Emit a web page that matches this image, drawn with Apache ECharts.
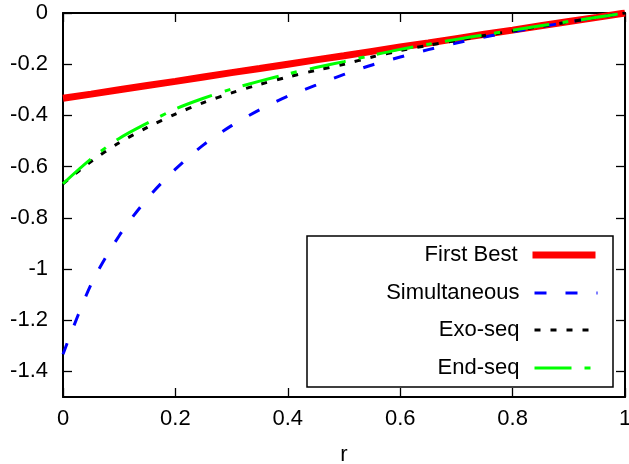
<!DOCTYPE html>
<html>
<head>
<meta charset="utf-8">
<script src="https://cdn.jsdelivr.net/npm/echarts@6/dist/echarts.min.js"></script>
<style>html,body{margin:0;padding:0;background:#fff}#c{width:629px;height:464px}</style>
</head>
<body>
<div id="c"></div>
<script>
const rValues = [0,0.05,0.1,0.15,0.2,0.25,0.3,0.35,0.4,0.45,0.5,0.55,0.6,0.65,0.7,0.75,0.8,0.85,0.9,0.95,1];
const firstBest = [-0.333,-0.317,-0.3,-0.283,-0.267,-0.25,-0.233,-0.217,-0.2,-0.183,-0.167,-0.15,-0.133,-0.117,-0.1,-0.083,-0.067,-0.05,-0.033,-0.017,0];
const simultaneous = [-1.333,-1.06,-0.87,-0.725,-0.61,-0.515,-0.44,-0.378,-0.325,-0.282,-0.24,-0.203,-0.172,-0.143,-0.117,-0.094,-0.073,-0.054,-0.035,-0.017,0];
const exoSeq = [-0.667,-0.58,-0.507,-0.447,-0.395,-0.35,-0.312,-0.279,-0.25,-0.224,-0.2,-0.172,-0.147,-0.126,-0.107,-0.088,-0.07,-0.052,-0.035,-0.017,0];
const endSeq = [-0.667,-0.57,-0.49,-0.43,-0.375,-0.333,-0.297,-0.266,-0.238,-0.213,-0.19,-0.165,-0.142,-0.122,-0.103,-0.085,-0.067,-0.05,-0.033,-0.017,0];
const seriesNames = ['First Best','Simultaneous','Exo-seq','End-seq'];
const xTickValues = [0,0.2,0.4,0.6,0.8,1];
const yTickValues = [0,-0.2,-0.4,-0.6,-0.8,-1,-1.2,-1.4];
const xRange = [0,1];
const yRange = [-1.5,0];

const pairs = ys => rValues.map((r,i)=>[r, ys[i]]);
const FONT = 'Liberation Sans';
const styles = [
  {color:'#ff0000', width:7, type:'solid'},
  {color:'#0000ff', width:3, type:[12,19]},
  {color:'#000000', width:3, type:[6,10]},
  {color:'#00ff00', width:3, type:[37,13,6,13]}
];
const dataSets = [firstBest, simultaneous, exoSeq, endSeq];
const rowTops = [244, 282, 319, 357];

const chart = echarts.init(document.getElementById('c'), null, {renderer:'canvas'});
function axis(extra, ticks, range, showLabels) {
  return Object.assign({
    type:'value', min:range[0], max:range[1],
    axisLine:{show:true, onZero:false, lineStyle:{color:'#000', width:2}},
    axisTick:{show:true, inside:true, length:9, customValues:ticks, lineStyle:{color:'#000', width:1.3}},
    axisLabel:{show:showLabels, customValues:ticks, fontFamily:FONT, fontSize:22, color:'#000',
      alignMinLabel:'center', alignMaxLabel:'center'},
    splitLine:{show:false}
  }, extra);
}
const xa = axis({position:'bottom', name:'r', nameLocation:'middle', nameGap:47,
  nameTextStyle:{fontFamily:FONT, fontSize:22, color:'#000'}}, xTickValues, xRange, true);
xa.axisLabel.margin = 11;
const ya = axis({position:'left'}, yTickValues, yRange, true);
ya.axisLabel.margin = 15;
delete ya.axisLabel.alignMinLabel; delete ya.axisLabel.alignMaxLabel;
chart.setOption({
  animation:false,
  backgroundColor:'#fff',
  grid:{left:63, right:4, top:13, bottom:67, containLabel:false, outerBoundsMode:'none'},
  xAxis:[xa, axis({position:'top'}, xTickValues, xRange, false)],
  yAxis:[ya, axis({position:'right'}, yTickValues, yRange, false)],
  legend: seriesNames.map((n,i)=>({
    data:[{name:n}], orient:'horizontal', align:'right', right:30, top:rowTops[i], padding:0,
    itemWidth:63, itemHeight:14,
    lineStyle:{width:styles[i].width},
    itemStyle:{opacity:0, color:'rgba(0,0,0,0)', borderWidth:0},
    textStyle:{fontFamily:FONT, fontSize:22, color:'#000', padding:[0,10,0,0]},
    selectedMode:false
  })),
  graphic:[{type:'rect', shape:{x:307, y:236, width:306, height:151}, style:{fill:'none', stroke:'#000', lineWidth:1.5}, z:0, silent:true}],
  series: seriesNames.map((n,i)=>({
    name:n, type:'line', data:pairs(dataSets[i]), showSymbol:false, symbol:'none',
    smooth: i === 0 ? false : 0.3, clip:true,
    lineStyle:{color:styles[i].color, width:styles[i].width, type:styles[i].type, cap:'butt'},
    itemStyle:{color:styles[i].color},
    z:2+i
  }))
});
</script>
</body>
</html>
